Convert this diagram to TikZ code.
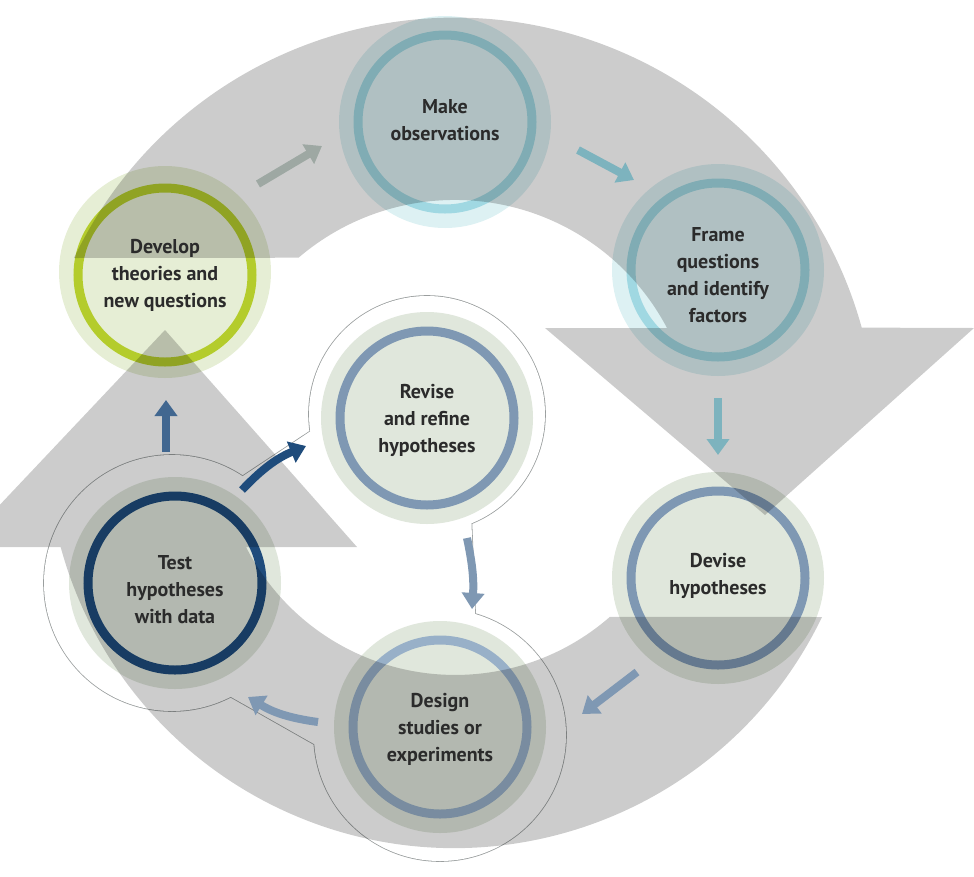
\documentclass[tikz,border=0pt]{standalone}
\usepackage{fontspec}
\setmainfont{PT Sans}
\usetikzlibrary{arrows.meta}
\definecolor{tealr}{HTML}{7DB3BE}
\definecolor{tealrl}{HTML}{A0D8E2}
\definecolor{tealh}{HTML}{DDF1F3}
\definecolor{greenr}{HTML}{B4CC2C}
\definecolor{greenh}{HTML}{E6EED5}
\definecolor{bluer}{HTML}{7F98B3}
\definecolor{bluerl}{HTML}{98B0C8}
\definecolor{paleh}{HTML}{E0E7DC}
\definecolor{darkb}{HTML}{1F4C7C}
\definecolor{txt}{HTML}{2B2B2B}
\definecolor{greyarr}{HTML}{9EA8A3}
\definecolor{blobl}{HTML}{9A9E9E}
\begin{document}
\begin{tikzpicture}[x=1pt,y=-1pt,
  halo/.style={circle,fill=#1,minimum size=212pt,inner sep=0pt},
  ring/.style={circle,draw=#1,line width=9pt,minimum size=174pt,inner sep=0pt},
  lbl/.style={align=center,font=\bfseries\fontsize{20}{27}\selectfont,text=txt},
  arr/.style={draw=#1,line width=8pt,-{Triangle[length=16pt,width=22pt]}}]
\useasboundingbox (0,0) rectangle (974,876);
% blob outline around inner loop
\coordinate (bR) at (427,414);
\coordinate (bT) at (172,583);
\coordinate (bD) at (440,735);
\fill[blobl] (bR) circle (118.8) (bT) circle (128.8) (bD) circle (126.8);
\draw[blobl,line width=101.6pt,line cap=round] (bT) -- (bR);
\draw[blobl,line width=81.6pt,line cap=round] (bR) -- (bD);
\draw[blobl,line width=141.6pt,line cap=round] (bT) -- (bD);
\fill[white] (bR) circle (118) (bT) circle (128) (bD) circle (126);
\draw[white,line width=100pt,line cap=round] (bT) -- (bR);
\draw[white,line width=80pt,line cap=round] (bR) -- (bD);
\draw[white,line width=140pt,line cap=round] (bT) -- (bD);
\fill[white] (bR) -- (bT) -- (bD) -- cycle;
% halos
\node[halo=tealh] (mkh) at (445,122) {};
\node[halo=tealh] (frh) at (718,270) {};
\node[halo=greenh] (dvh) at (165,272) {};
\node[halo=paleh] (deh) at (718,578) {};
\node[halo=paleh] (dsh) at (440,727) {};
\node[halo=paleh] (tsh) at (175,583) {};
\node[halo=paleh] (rvh) at (427,418) {};
% rings
\node[ring=tealrl] (mk) at (445,122) {};
\node[ring=tealrl] (fr) at (718,270) {};
\node[ring=greenr] (dv) at (165,275) {};
\node[ring=bluer] (de) at (718,578) {};
\node[ring=bluerl] (ds) at (440,727) {};
\node[ring=darkb] (ts) at (175,583) {};
\node[ring=bluer] (rv) at (427,418) {};
% big grey cycle arrows
\fill[black,opacity=0.2]
  (74,258) arc[start angle=205.5,end angle=344.6,radius=422]
  -- (974,328) -- (765,515) -- (545,328) -- (667,328)
  arc[start angle=332.2,end angle=229.4,radius=240] -- cycle;
\fill[black,opacity=0.2]
  (822,617) arc[start angle=25.7,end angle=164.8,radius=408]
  -- (-40,547) -- (165,330) -- (357,547) -- (246,547)
  arc[start angle=152.9,end angle=48.8,radius=235] -- cycle;
% labels
\node[lbl] (mkt) at (445,120) {Make\\observations};
\node[lbl] (frt) at (718,275) {Frame\\questions\\and identify\\factors};
\node[lbl] (dvt) at (165,275) {Develop\\theories and\\new questions};
\node[lbl] (det) at (718,576) {Devise\\hypotheses};
\node[lbl] (dst) at (440,729) {Design\\studies or\\experiments};
\node[lbl] (tst) at (175,590) {Test\\hypotheses\\with data};
\node[lbl] (rvt) at (427,420) {Revise\\and refine\\hypotheses};
% small arrows
\coordinate (a1) at (258,184); \coordinate (a2) at (322,146);
\coordinate (b1) at (578,150); \coordinate (b2) at (634,180);
\coordinate (c1) at (718,398); \coordinate (c2) at (718,455);
\coordinate (d1) at (637,672); \coordinate (d2) at (582,714);
\coordinate (e1) at (318,722); \coordinate (e2) at (248,697);
\coordinate (f1) at (242,490); \coordinate (f2) at (306,446);
\coordinate (g1) at (467,538); \coordinate (g2) at (472,609);
\coordinate (h1) at (166,452); \coordinate (h2) at (166,400);
\draw[arr=greyarr] (a1) -- (a2);
\draw[arr=tealr] (b1) -- (b2);
\draw[arr=tealr] (c1) -- (c2);
\draw[arr=bluer] (d1) -- (d2);
\draw[arr=bluer] (e1) to[bend left=12] (e2);
\draw[arr=darkb] (f1) to[bend left=12] (f2);
\draw[arr=bluer] (g1) to[bend left=8] (g2);
\draw[arr=darkb!85] (h1) -- (h2);
\end{tikzpicture}
\end{document}
